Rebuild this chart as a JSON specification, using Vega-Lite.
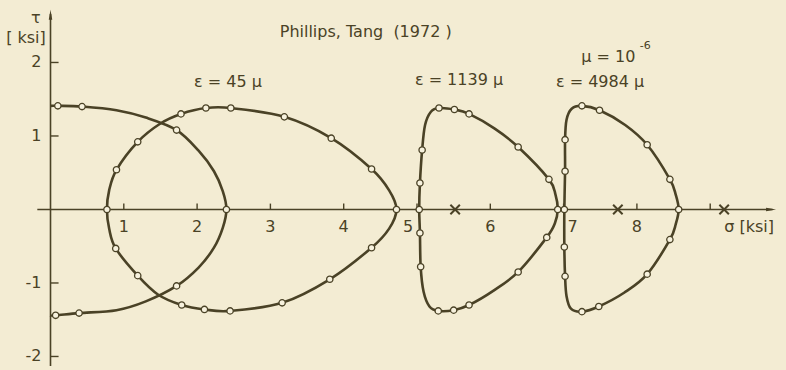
{
  "$schema": "https://vega.github.io/schema/vega-lite/v6.json",
  "width": 786,
  "height": 370,
  "padding": 0,
  "autosize": {"type": "none"},
  "background": "#f3ecd3",
  "config": {
    "view": {"stroke": null},
    "text": {"font": "DejaVu Sans", "fontSize": 16, "fill": "#4a4226"}
  },
  "data": {"values": [{}]},
  "datasets": {
    "surfaces": [
      {"curve": "A", "k": 0, "sigma": 0.00, "tau": 1.41, "measured": 0},
      {"curve": "A", "k": 1, "sigma": 0.10, "tau": 1.41, "measured": 1},
      {"curve": "A", "k": 2, "sigma": 0.43, "tau": 1.40, "measured": 1},
      {"curve": "A", "k": 3, "sigma": 0.90, "tau": 1.35, "measured": 0},
      {"curve": "A", "k": 4, "sigma": 1.30, "tau": 1.25, "measured": 0},
      {"curve": "A", "k": 5, "sigma": 1.72, "tau": 1.08, "measured": 1},
      {"curve": "A", "k": 6, "sigma": 2.02, "tau": 0.80, "measured": 0},
      {"curve": "A", "k": 7, "sigma": 2.23, "tau": 0.52, "measured": 0},
      {"curve": "A", "k": 8, "sigma": 2.35, "tau": 0.25, "measured": 0},
      {"curve": "A", "k": 9, "sigma": 2.40, "tau": 0.00, "measured": 1},
      {"curve": "A", "k": 10, "sigma": 2.35, "tau": -0.25, "measured": 0},
      {"curve": "A", "k": 11, "sigma": 2.23, "tau": -0.52, "measured": 0},
      {"curve": "A", "k": 12, "sigma": 2.02, "tau": -0.79, "measured": 0},
      {"curve": "A", "k": 13, "sigma": 1.72, "tau": -1.04, "measured": 1},
      {"curve": "A", "k": 14, "sigma": 1.30, "tau": -1.25, "measured": 0},
      {"curve": "A", "k": 15, "sigma": 0.90, "tau": -1.37, "measured": 0},
      {"curve": "A", "k": 16, "sigma": 0.39, "tau": -1.41, "measured": 1},
      {"curve": "A", "k": 17, "sigma": 0.07, "tau": -1.44, "measured": 1},
      {"curve": "A", "k": 18, "sigma": 0.00, "tau": -1.44, "measured": 0},

      {"curve": "B", "k": 0, "sigma": 0.77, "tau": 0.00, "measured": 1},
      {"curve": "B", "k": 1, "sigma": 0.80, "tau": 0.26, "measured": 0},
      {"curve": "B", "k": 2, "sigma": 0.90, "tau": 0.54, "measured": 1},
      {"curve": "B", "k": 3, "sigma": 1.19, "tau": 0.92, "measured": 1},
      {"curve": "B", "k": 4, "sigma": 1.50, "tau": 1.17, "measured": 0},
      {"curve": "B", "k": 5, "sigma": 1.78, "tau": 1.30, "measured": 1},
      {"curve": "B", "k": 6, "sigma": 2.12, "tau": 1.38, "measured": 1},
      {"curve": "B", "k": 7, "sigma": 2.46, "tau": 1.38, "measured": 1},
      {"curve": "B", "k": 8, "sigma": 3.19, "tau": 1.26, "measured": 1},
      {"curve": "B", "k": 9, "sigma": 3.83, "tau": 0.97, "measured": 1},
      {"curve": "B", "k": 10, "sigma": 4.38, "tau": 0.55, "measured": 1},
      {"curve": "B", "k": 11, "sigma": 4.62, "tau": 0.26, "measured": 0},
      {"curve": "B", "k": 12, "sigma": 4.72, "tau": 0.00, "measured": 1},
      {"curve": "B", "k": 13, "sigma": 4.62, "tau": -0.26, "measured": 0},
      {"curve": "B", "k": 14, "sigma": 4.38, "tau": -0.52, "measured": 1},
      {"curve": "B", "k": 15, "sigma": 3.81, "tau": -0.95, "measured": 1},
      {"curve": "B", "k": 16, "sigma": 3.16, "tau": -1.27, "measured": 1},
      {"curve": "B", "k": 17, "sigma": 2.45, "tau": -1.38, "measured": 1},
      {"curve": "B", "k": 18, "sigma": 2.10, "tau": -1.36, "measured": 1},
      {"curve": "B", "k": 19, "sigma": 1.79, "tau": -1.30, "measured": 1},
      {"curve": "B", "k": 20, "sigma": 1.47, "tau": -1.16, "measured": 0},
      {"curve": "B", "k": 21, "sigma": 1.19, "tau": -0.90, "measured": 1},
      {"curve": "B", "k": 22, "sigma": 0.89, "tau": -0.53, "measured": 1},
      {"curve": "B", "k": 23, "sigma": 0.80, "tau": -0.26, "measured": 0},

      {"curve": "C", "k": 0, "sigma": 5.03, "tau": 0.00, "measured": 1},
      {"curve": "C", "k": 1, "sigma": 5.04, "tau": 0.36, "measured": 1},
      {"curve": "C", "k": 2, "sigma": 5.07, "tau": 0.81, "measured": 1},
      {"curve": "C", "k": 3, "sigma": 5.11, "tau": 1.15, "measured": 0},
      {"curve": "C", "k": 4, "sigma": 5.19, "tau": 1.33, "measured": 0},
      {"curve": "C", "k": 5, "sigma": 5.30, "tau": 1.38, "measured": 1},
      {"curve": "C", "k": 6, "sigma": 5.51, "tau": 1.36, "measured": 1},
      {"curve": "C", "k": 7, "sigma": 5.71, "tau": 1.30, "measured": 1},
      {"curve": "C", "k": 8, "sigma": 6.06, "tau": 1.10, "measured": 0},
      {"curve": "C", "k": 9, "sigma": 6.38, "tau": 0.85, "measured": 1},
      {"curve": "C", "k": 10, "sigma": 6.80, "tau": 0.41, "measured": 1},
      {"curve": "C", "k": 11, "sigma": 6.89, "tau": 0.20, "measured": 0},
      {"curve": "C", "k": 12, "sigma": 6.92, "tau": 0.00, "measured": 1},
      {"curve": "C", "k": 13, "sigma": 6.88, "tau": -0.19, "measured": 0},
      {"curve": "C", "k": 14, "sigma": 6.77, "tau": -0.38, "measured": 1},
      {"curve": "C", "k": 15, "sigma": 6.38, "tau": -0.85, "measured": 1},
      {"curve": "C", "k": 16, "sigma": 6.05, "tau": -1.10, "measured": 0},
      {"curve": "C", "k": 17, "sigma": 5.71, "tau": -1.30, "measured": 1},
      {"curve": "C", "k": 18, "sigma": 5.50, "tau": -1.37, "measured": 1},
      {"curve": "C", "k": 19, "sigma": 5.29, "tau": -1.38, "measured": 1},
      {"curve": "C", "k": 20, "sigma": 5.17, "tau": -1.32, "measured": 0},
      {"curve": "C", "k": 21, "sigma": 5.09, "tau": -1.12, "measured": 0},
      {"curve": "C", "k": 22, "sigma": 5.05, "tau": -0.78, "measured": 1},
      {"curve": "C", "k": 23, "sigma": 5.04, "tau": -0.32, "measured": 1},

      {"curve": "D", "k": 0, "sigma": 7.01, "tau": 0.00, "measured": 1},
      {"curve": "D", "k": 1, "sigma": 7.02, "tau": 0.52, "measured": 1},
      {"curve": "D", "k": 2, "sigma": 7.02, "tau": 0.95, "measured": 1},
      {"curve": "D", "k": 3, "sigma": 7.04, "tau": 1.22, "measured": 0},
      {"curve": "D", "k": 4, "sigma": 7.11, "tau": 1.37, "measured": 0},
      {"curve": "D", "k": 5, "sigma": 7.25, "tau": 1.41, "measured": 1},
      {"curve": "D", "k": 6, "sigma": 7.49, "tau": 1.35, "measured": 1},
      {"curve": "D", "k": 7, "sigma": 7.84, "tau": 1.15, "measured": 0},
      {"curve": "D", "k": 8, "sigma": 8.14, "tau": 0.88, "measured": 1},
      {"curve": "D", "k": 9, "sigma": 8.45, "tau": 0.41, "measured": 1},
      {"curve": "D", "k": 10, "sigma": 8.53, "tau": 0.20, "measured": 0},
      {"curve": "D", "k": 11, "sigma": 8.57, "tau": 0.00, "measured": 1},
      {"curve": "D", "k": 12, "sigma": 8.53, "tau": -0.20, "measured": 0},
      {"curve": "D", "k": 13, "sigma": 8.45, "tau": -0.41, "measured": 1},
      {"curve": "D", "k": 14, "sigma": 8.14, "tau": -0.88, "measured": 1},
      {"curve": "D", "k": 15, "sigma": 7.83, "tau": -1.13, "measured": 0},
      {"curve": "D", "k": 16, "sigma": 7.48, "tau": -1.32, "measured": 1},
      {"curve": "D", "k": 17, "sigma": 7.25, "tau": -1.39, "measured": 1},
      {"curve": "D", "k": 18, "sigma": 7.10, "tau": -1.35, "measured": 0},
      {"curve": "D", "k": 19, "sigma": 7.04, "tau": -1.18, "measured": 0},
      {"curve": "D", "k": 20, "sigma": 7.02, "tau": -0.91, "measured": 1},
      {"curve": "D", "k": 21, "sigma": 7.01, "tau": -0.51, "measured": 1}
    ],
    "centres": [
      {"sigma": 5.52, "tau": 0},
      {"sigma": 7.74, "tau": 0},
      {"sigma": 9.19, "tau": 0}
    ],
    "xticks": [
      {"v": 1, "label": "1"}, {"v": 2, "label": "2"}, {"v": 3, "label": "3"},
      {"v": 4, "label": "4"}, {"v": 5, "label": "5"}, {"v": 6, "label": "6"},
      {"v": 7, "label": "7"}, {"v": 8, "label": "8"}, {"v": 9, "label": "σ [ksi]"}
    ],
    "yticks": [
      {"v": 2, "label": "2"}, {"v": 1, "label": "1"},
      {"v": -1, "label": "-1"}, {"v": -2, "label": "-2"}
    ]
  },
  "layer": [
    {
      "mark": {"type": "rule", "stroke": "#4a4226", "strokeWidth": 1.6},
      "encoding": {
        "x": {"datum": -0.18, "type": "quantitative", "scale": {"domain": [-0.689, 10.034], "zero": false, "nice": false}, "axis": null},
        "x2": {"datum": 9.85},
        "y": {"datum": 0, "type": "quantitative", "scale": {"domain": [-2.184, 2.850], "zero": false, "nice": false}, "axis": null}
      }
    },
    {
      "mark": {"type": "rule", "stroke": "#4a4226", "strokeWidth": 1.6},
      "encoding": {
        "x": {"datum": 0, "type": "quantitative"},
        "y": {"datum": -2.13, "type": "quantitative"},
        "y2": {"datum": 2.66}
      }
    },
    {
      "data": {"name": "xticks"},
      "mark": {"type": "rule", "stroke": "#4a4226", "strokeWidth": 1.4},
      "encoding": {
        "x": {"field": "v", "type": "quantitative"},
        "y": {"datum": 0, "type": "quantitative"},
        "y2": {"datum": 0.08}
      }
    },
    {
      "data": {"name": "yticks"},
      "mark": {"type": "rule", "stroke": "#4a4226", "strokeWidth": 1.4},
      "encoding": {
        "y": {"field": "v", "type": "quantitative"},
        "x": {"datum": 0, "type": "quantitative"},
        "x2": {"datum": 0.11}
      }
    },
    {
      "mark": {"type": "point", "shape": "M1,0L-1,0.35L-1,-0.35Z", "size": 100, "filled": true, "fill": "#4a4226", "opacity": 1},
      "encoding": {
        "x": {"datum": 9.83, "type": "quantitative"},
        "y": {"datum": 0, "type": "quantitative"}
      }
    },
    {
      "mark": {"type": "point", "shape": "M0,-1L0.35,1L-0.35,1Z", "size": 100, "filled": true, "fill": "#4a4226", "opacity": 1},
      "encoding": {
        "x": {"datum": 0, "type": "quantitative"},
        "y": {"datum": 2.65, "type": "quantitative"}
      }
    },
    {
      "data": {"name": "surfaces"},
      "transform": [{"filter": "datum.curve === 'A'"}],
      "mark": {"type": "line", "interpolate": "cardinal", "stroke": "#4a4226", "strokeWidth": 2.6},
      "encoding": {
        "x": {"field": "sigma", "type": "quantitative"},
        "y": {"field": "tau", "type": "quantitative"},
        "order": {"field": "k", "type": "quantitative"}
      }
    },
    {
      "data": {"name": "surfaces"},
      "transform": [{"filter": "datum.curve !== 'A'"}],
      "mark": {"type": "line", "interpolate": "cardinal-closed", "stroke": "#4a4226", "strokeWidth": 2.6},
      "encoding": {
        "x": {"field": "sigma", "type": "quantitative"},
        "y": {"field": "tau", "type": "quantitative"},
        "detail": {"field": "curve"},
        "order": {"field": "k", "type": "quantitative"}
      }
    },
    {
      "data": {"name": "surfaces"},
      "transform": [{"filter": "datum.measured === 1"}],
      "mark": {"type": "point", "shape": "circle", "size": 40, "filled": true, "fill": "#f7f2de", "stroke": "#4a4226", "strokeWidth": 1.3, "opacity": 1},
      "encoding": {
        "x": {"field": "sigma", "type": "quantitative"},
        "y": {"field": "tau", "type": "quantitative"}
      }
    },
    {
      "data": {"name": "centres"},
      "mark": {"type": "point", "shape": "M-1,-1L1,1M-1,1L1,-1", "size": 90, "filled": false, "stroke": "#4a4226", "strokeWidth": 2, "opacity": 1},
      "encoding": {
        "x": {"field": "sigma", "type": "quantitative"},
        "y": {"field": "tau", "type": "quantitative"}
      }
    },
    {
      "data": {"name": "xticks"},
      "transform": [{"filter": "datum.v !== 5 && datum.v !== 7 && datum.v !== 9"}],
      "mark": {"type": "text", "align": "center", "baseline": "middle"},
      "encoding": {
        "x": {"field": "v", "type": "quantitative"},
        "y": {"datum": -0.24, "type": "quantitative"},
        "text": {"field": "label"}
      }
    },
    {
      "data": {"name": "xticks"},
      "transform": [{"filter": "datum.v === 5"}],
      "mark": {"type": "text", "align": "center", "baseline": "middle", "dx": -9},
      "encoding": {
        "x": {"field": "v", "type": "quantitative"},
        "y": {"datum": -0.24, "type": "quantitative"},
        "text": {"field": "label"}
      }
    },
    {
      "data": {"name": "xticks"},
      "transform": [{"filter": "datum.v === 7"}],
      "mark": {"type": "text", "align": "center", "baseline": "middle", "dx": 9},
      "encoding": {
        "x": {"field": "v", "type": "quantitative"},
        "y": {"datum": -0.24, "type": "quantitative"},
        "text": {"field": "label"}
      }
    },
    {
      "data": {"name": "xticks"},
      "transform": [{"filter": "datum.v === 9"}],
      "mark": {"type": "text", "align": "left", "baseline": "middle", "dx": 14},
      "encoding": {
        "x": {"field": "v", "type": "quantitative"},
        "y": {"datum": -0.24, "type": "quantitative"},
        "text": {"field": "label"}
      }
    },
    {
      "data": {"name": "yticks"},
      "mark": {"type": "text", "align": "right", "baseline": "middle", "dx": -9},
      "encoding": {
        "x": {"datum": 0, "type": "quantitative"},
        "y": {"field": "v", "type": "quantitative"},
        "text": {"field": "label"}
      }
    },
    {
      "mark": {"type": "text", "text": "τ", "align": "center", "baseline": "middle"},
      "encoding": {
        "x": {"datum": -0.2, "type": "quantitative"},
        "y": {"datum": 2.6, "type": "quantitative"}
      }
    },
    {
      "mark": {"type": "text", "text": "[ ksi]", "align": "center", "baseline": "middle"},
      "encoding": {
        "x": {"datum": -0.335, "type": "quantitative"},
        "y": {"datum": 2.33, "type": "quantitative"}
      }
    },
    {
      "mark": {"type": "text", "text": "Phillips, Tang\u00a0\u00a0(1972\u00a0)", "align": "center", "baseline": "middle"},
      "encoding": {
        "x": {"datum": 4.3, "type": "quantitative"},
        "y": {"datum": 2.415, "type": "quantitative"}
      }
    },
    {
      "mark": {"type": "text", "text": "ε = 45 μ", "align": "center", "baseline": "middle"},
      "encoding": {
        "x": {"datum": 2.42, "type": "quantitative"},
        "y": {"datum": 1.735, "type": "quantitative"}
      }
    },
    {
      "mark": {"type": "text", "text": "ε = 1139 μ", "align": "center", "baseline": "middle"},
      "encoding": {
        "x": {"datum": 5.573, "type": "quantitative"},
        "y": {"datum": 1.76, "type": "quantitative"}
      }
    },
    {
      "mark": {"type": "text", "text": "μ = 10", "align": "left", "baseline": "middle"},
      "encoding": {
        "x": {"datum": 7.24, "type": "quantitative"},
        "y": {"datum": 2.075, "type": "quantitative"}
      }
    },
    {
      "mark": {"type": "text", "text": "-6", "align": "left", "baseline": "middle", "fontSize": 11},
      "encoding": {
        "x": {"datum": 8.04, "type": "quantitative"},
        "y": {"datum": 2.225, "type": "quantitative"}
      }
    },
    {
      "mark": {"type": "text", "text": "ε = 4984 μ", "align": "center", "baseline": "middle"},
      "encoding": {
        "x": {"datum": 7.497, "type": "quantitative"},
        "y": {"datum": 1.735, "type": "quantitative"}
      }
    }
  ]
}
